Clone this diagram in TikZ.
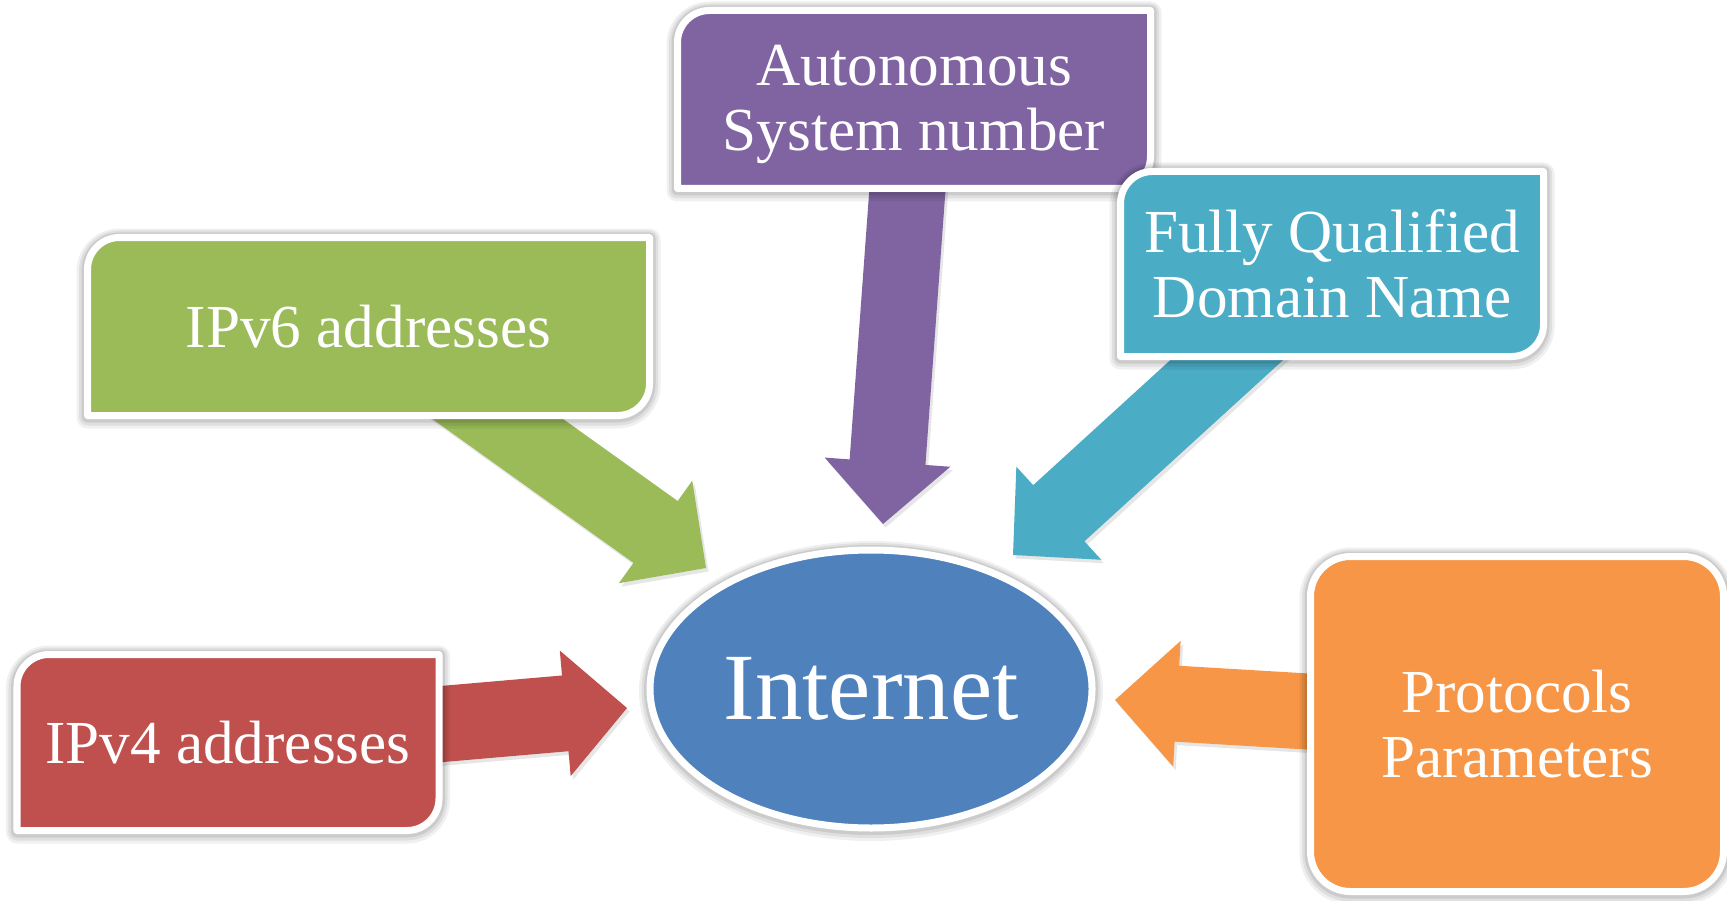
\documentclass[tikz,border=0pt]{standalone}
\usepackage{fontspec}
\setmainfont{Liberation Serif}
\usetikzlibrary{calc,shapes.geometric,shadows}

\definecolor{netblue}{HTML}{4F81BD}
\definecolor{boxred}{HTML}{C0504D}
\definecolor{boxgreen}{HTML}{9BBB59}
\definecolor{boxpurple}{HTML}{8064A2}
\definecolor{boxteal}{HTML}{4BACC6}
\definecolor{boxorange}{HTML}{F79646}

\pgfdeclarelayer{arrowlayer}
\pgfdeclarelayer{boxlayer}
\pgfsetlayers{arrowlayer,boxlayer,main}

\newcommand{\boxfont}{\fontsize{17.4}{18.5}\selectfont}

\tikzset{
  softshadow/.style={drop shadow={opacity=0.2, shadow xshift=0.025cm, shadow yshift=-0.035cm}},
  halo/.style={
    preaction={draw=black, draw opacity=0.06, line width=0.22cm, line join=round, transform canvas={yshift=-0.02cm}},
    preaction={draw=black, draw opacity=0.07, line width=0.17cm, line join=round, transform canvas={yshift=-0.015cm}},
    preaction={draw=black, draw opacity=0.09, line width=0.12cm, line join=round, transform canvas={yshift=-0.01cm}}},
  boxtext/.style={text=white, align=center, font=\boxfont, outer sep=0pt},
  boxface/.style={draw=white, line width=0.07cm, line join=round, halo},
  hub/.style={ellipse, fill=netblue, draw=white, line width=0.07cm,
    minimum width=4.42cm, minimum height=2.78cm, inner sep=0pt,
    text=white, font=\fontsize{27}{30}\selectfont, halo}
}

% box with the top left and bottom right corners rounded
\newcommand{\tabbox}[2]{%
  \path[boxface, fill=#2] (#1.south west) -- ($(#1.north west)+(0,-0.32)$)
    arc[start angle=180, end angle=90, radius=0.32] -- (#1.north east)
    -- ($(#1.south east)+(0,0.32)$) arc[start angle=0, end angle=-90, radius=0.32] -- cycle;}

% wide arrow from a box to its tip
\newcommand{\blockarrow}[3]{%
  \coordinate (#2h) at ($(#2)!0.62cm!(#1)$);
  \fill[#3, softshadow] ($(#1)!0.38cm!90:(#2)$) -- ($(#2h)!0.38cm!90:(#2)$)
    -- ($(#2h)!0.63cm!90:(#2)$) -- (#2) -- ($(#2h)!0.63cm!-90:(#2)$)
    -- ($(#2h)!0.38cm!-90:(#2)$) -- ($(#1)!0.38cm!-90:(#2)$) -- cycle;}

\begin{document}
\begin{tikzpicture}
  \useasboundingbox (0,0) rectangle (17.27,9);

  \node[hub] (net) at (8.71,2.11) {Internet};

  \node[boxtext, minimum width=4.22cm, minimum height=1.76cm] (v4) at (2.28,1.575) {IPv4 addresses};
  \node[boxtext, minimum width=5.62cm, minimum height=1.78cm] (v6) at (3.685,5.735) {IPv6 addresses};
  \node[boxtext, minimum width=4.73cm, minimum height=1.78cm] (asn) at (9.14,8.005) {\rule{0pt}{0.51cm}Autonomous\\System number};
  \node[boxtext, minimum width=4.23cm, minimum height=1.85cm] (fqdn) at (13.32,6.36) {Fully Qualified\\Domain Name};
  \node[boxtext, minimum width=4.13cm, minimum height=3.35cm] (proto) at (15.17,1.76) {Protocols\\Parameters};

  \coordinate (v4t) at (6.27,1.92);
  \coordinate (v6t) at (7.06,3.32);
  \coordinate (asnt) at (8.83,3.76);
  \coordinate (fqdnt) at (10.13,3.45);
  \coordinate (protot) at (11.15,2.00);

  \begin{pgfonlayer}{boxlayer}
    \tabbox{v4}{boxred}
    \tabbox{v6}{boxgreen}
    \tabbox{asn}{boxpurple}
    \tabbox{fqdn}{boxteal}
    \path[boxface, fill=boxorange, rounded corners=0.4cm] (proto.south west) rectangle (proto.north east);
  \end{pgfonlayer}

  \begin{pgfonlayer}{arrowlayer}
    \blockarrow{v4}{v4t}{boxred}
    \blockarrow{v6}{v6t}{boxgreen}
    \blockarrow{asn}{asnt}{boxpurple}
    \blockarrow{fqdn}{fqdnt}{boxteal}
    \blockarrow{proto}{protot}{boxorange}
  \end{pgfonlayer}
\end{tikzpicture}
\end{document}
